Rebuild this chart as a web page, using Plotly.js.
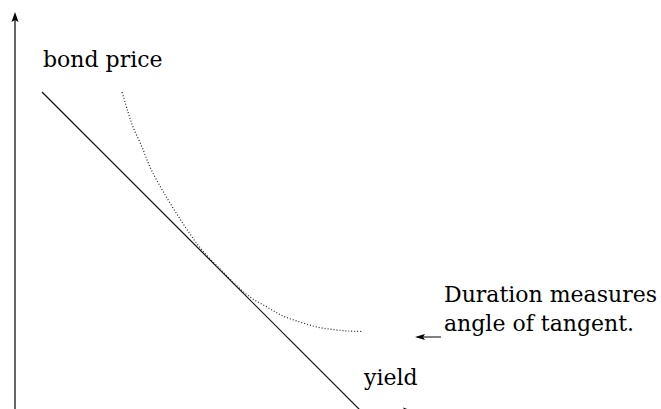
<!DOCTYPE html>
<html>
<head>
<meta charset="utf-8">
<script src="https://cdn.plot.ly/plotly-3.0.1.min.js"></script>
<style>
  html, body { margin: 0; padding: 0; background: #fff; }
  #plot { width: 661px; height: 409px; }
</style>
</head>
<body>
<div id="plot"></div>
<script>
// tangent line (duration approximation)
var tangent_x = [42, 360];
var tangent_y = [317, -1];

// actual price/yield curve
var curve_x = [122, 128, 133, 142, 150, 160, 170, 180, 190, 202, 220, 237, 250, 267, 283, 300, 317, 333, 348, 362];
var curve_y = [317, 297, 282, 262, 242, 223, 206, 190, 175, 159, 140, 123, 112, 102, 93, 87, 82, 79.5, 78, 77.5];

var label_font = {family: '"DejaVu Serif", "Liberation Serif", serif', size: 22, color: '#000'};

function plot_duration(){
  const myDiv = document.getElementById('plot');

  var tangent = {
    x: tangent_x,
    y: tangent_y,
    mode: 'lines',
    line: {color: '#111', width: 1.2},
    hoverinfo: 'skip',
    type: 'scatter'
  };

  var curve = {
    x: curve_x,
    y: curve_y,
    mode: 'lines',
    line: {color: '#222', width: 1.2, dash: '1px,2px', shape: 'spline'},
    hoverinfo: 'skip',
    type: 'scatter'
  };

  var data = [tangent, curve];

  function label(text, x, y){
    return {
      text: text, x: x, y: y, xref: 'x', yref: 'y',
      xanchor: 'left', yanchor: 'top', align: 'left', showarrow: false,
      font: label_font
    };
  }

  var layout = {
    width: 661,
    height: 409,
    margin: {l: 0, r: 0, t: 0, b: 0},
    showlegend: false,
    paper_bgcolor: '#fff',
    plot_bgcolor: '#fff',
    xaxis: {range: [0, 661], visible: false, fixedrange: true},
    yaxis: {range: [0, 409], visible: false, fixedrange: true},
    shapes: [
      // y axis
      {type: 'line', x0: 15, x1: 15, y0: -5, y1: 392, line: {color: '#000', width: 1.2}},
      {type: 'path', xref: 'x', yref: 'y', xsizemode: 'pixel', ysizemode: 'pixel',
       xanchor: 15, yanchor: 397, path: 'M0,0 L-3.5,-10 L0,-8 L3.5,-10 Z',
       fillcolor: '#000', line: {width: 0}},
      // x axis arrowhead, mostly below the frame
      {type: 'path', xref: 'x', yref: 'y', xsizemode: 'pixel', ysizemode: 'pixel',
       xanchor: 413, yanchor: -2, path: 'M0,0 L-10,3.5 L-8,0 L-10,-3.5 Z',
       fillcolor: '#000', line: {width: 0}},
      // pointer to the tangent
      {type: 'line', x0: 420, x1: 441, y0: 72, y1: 72, line: {color: '#000', width: 1}},
      {type: 'path', xref: 'x', yref: 'y', xsizemode: 'pixel', ysizemode: 'pixel',
       xanchor: 415, yanchor: 72, path: 'M0,0 L10,3 L8,0 L10,-3 Z',
       fillcolor: '#000', line: {width: 0}}
    ],
    annotations: [
      label('bond price', 41, 364),
      label('Duration measures<br>angle of tangent.', 442, 129),
      label('yield', 361, 46)
    ]
  };

  Plotly.newPlot(myDiv, data, layout, {displayModeBar: false, staticPlot: true});
}

plot_duration();
</script>
</body>
</html>
